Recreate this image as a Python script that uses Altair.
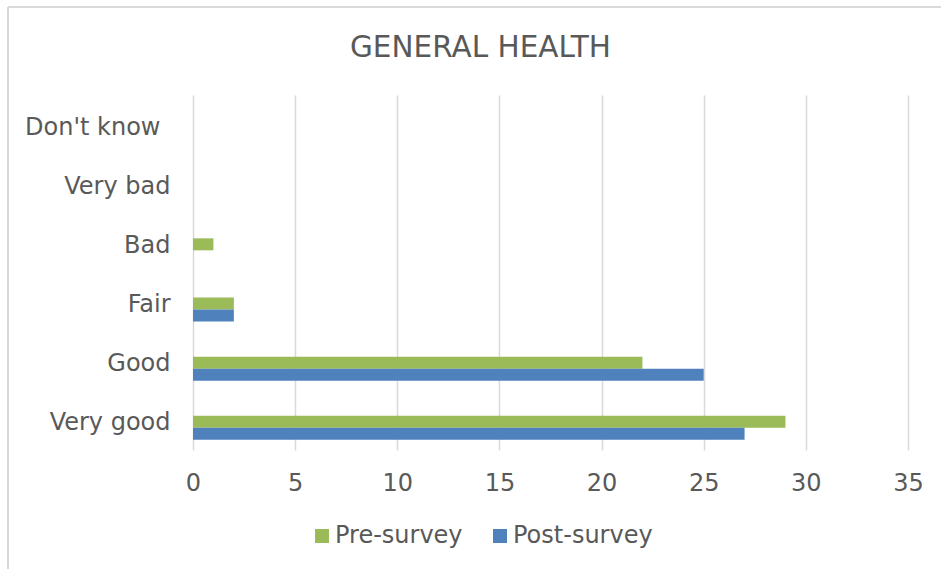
import altair as alt
import pandas as pd

# Survey answers to the "general health" question, before and after
categories = ["Don't know", "Very bad", "Bad", "Fair", "Good", "Very good"]
pre_survey = [0, 0, 1, 2, 22, 29]
post_survey = [0, 0, 0, 2, 25, 27]
series = ["Pre-survey", "Post-survey"]
series_colors = ["#9BBB59", "#4F81BD"]
x_ticks = [0, 5, 10, 15, 20, 25, 30, 35]

rows = []
for cat, a, b in zip(categories, pre_survey, post_survey):
    rows.append({"answer": cat, "survey": series[0], "count": a})
    rows.append({"answer": cat, "survey": series[1], "count": b})
df = pd.DataFrame(rows)

FONT = "DejaVu Sans"
TXT = "#595959"
GRID = "#D9D9D9"

bars = alt.Chart(df).mark_bar().encode(
    x=alt.X(
        "count:Q",
        scale=alt.Scale(domain=[0, 35], nice=False),
        axis=alt.Axis(
            values=x_ticks,
            title=None,
            domain=False,
            ticks=False,
            grid=True,
            gridColor=GRID,
            gridWidth=1.5,
            labelFlush=False,
            labelFont=FONT,
            labelFontSize=24,
            labelColor=TXT,
            labelPadding=21,
        ),
    ),
    y=alt.Y(
        "answer:N",
        sort=categories,
        scale=alt.Scale(paddingInner=0, paddingOuter=0),
        axis=alt.Axis(
            title=None,
            domain=False,
            ticks=False,
            grid=False,
            labelFont=FONT,
            labelFontSize=24,
            labelColor=TXT,
            labelOffset=3,
            labelPadding={
                "condition": {"test": "datum.value === \"Don't know\"", "value": 33},
                "value": 23,
            },
        ),
    ),
    # the pair of bars sits slightly below the middle of each category row
    yOffset=alt.YOffset(
        "survey:N",
        sort=series,
        scale=alt.Scale(range=[25, 49], paddingInner=0, paddingOuter=0),
    ),
    color=alt.Color(
        "survey:N",
        sort=series,
        scale=alt.Scale(domain=series, range=series_colors),
        legend=alt.Legend(
            title=None,
            orient="none",
            direction="horizontal",
            legendX=117,
            legendY=429,
            symbolType="square",
            symbolSize=196,
            symbolStrokeWidth=0,
            labelFont=FONT,
            labelFontSize=24,
            labelColor=TXT,
            labelOffset=1,
            columnPadding=25,
        ),
    ),
)

# Thin frame around the chart (top and left edges)
frame_src = alt.Chart(pd.DataFrame({"k": [0]}))
frame_left = frame_src.mark_rule(color="#D9D9D9", strokeWidth=2).encode(
    x=alt.value(-185), y=alt.value(-88), y2=alt.value(480)
)
frame_top = frame_src.mark_rule(color="#D9D9D9", strokeWidth=2).encode(
    x=alt.value(-185), x2=alt.value(760), y=alt.value(-88)
)

chart = (
    alt.layer(bars, frame_left, frame_top)
    .properties(
        width=715,
        height=355,
        padding={"left": 193, "top": 95, "right": 33, "bottom": 119},
        autosize=alt.AutoSizeParams(type="none"),
        background="white",
        title=alt.TitleParams(
            "GENERAL HEALTH",
            font=FONT,
            fontSize=29.5,
            fontWeight="normal",
            color=TXT,
            anchor="middle",
            offset=0,
            dx=-70,
            dy=57,
        ),
    )
    .configure_view(stroke=None)
)

chart.save("out.html", embed_options={"renderer": "svg", "actions": False})
